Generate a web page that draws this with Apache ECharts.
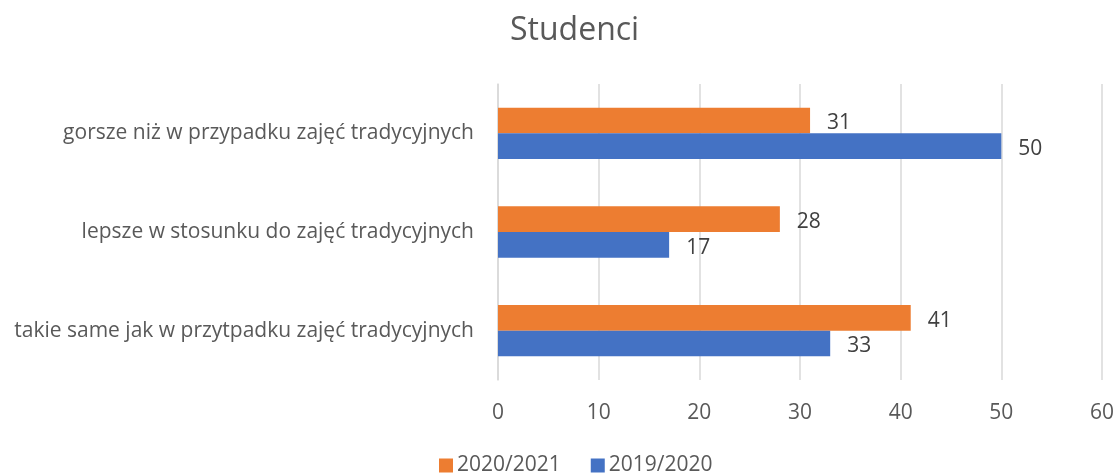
<!DOCTYPE html>
<html>
<head>
<meta charset="utf-8">
<script src="https://cdn.jsdelivr.net/npm/echarts@6/dist/echarts.min.js"></script>
<style>
  html, body { margin: 0; padding: 0; background: #fff; }
  #chart { width: 1117px; height: 475px; }
</style>
</head>
<body>
<div id="chart"></div>
<script>
  // kategorie od dołu do góry
  var categories = [
    'takie same jak w przytpadku zajęć tradycyjnych',
    'lepsze w stosunku do zajęć tradycyjnych',
    'gorsze niż w przypadku zajęć tradycyjnych'
  ];
  var seriesNames = ['2020/2021', '2019/2020'];
  var values2021 = [41, 28, 31];
  var values2020 = [33, 17, 50];

  var font = 'Open Sans, Noto Sans, sans-serif';
  var myChart = echarts.init(document.getElementById('chart'));
  var option = {
    animation: false,
    title: {
      text: 'Studenci',
      left: 505,
      top: 10,
      textStyle: { fontFamily: font, fontSize: 32, fontWeight: 'normal', color: '#595959' }
    },
    legend: {
      top: 450,
      left: 434,
      itemWidth: 14,
      itemHeight: 14,
      itemGap: 30,
      icon: 'rect',
      textStyle: { fontFamily: font, fontSize: 21, color: '#595959', padding: [0, 0, 0, -1] },
      data: seriesNames
    },
    grid: { left: 498, right: 13, top: 84, bottom: 95 },
    xAxis: {
      type: 'value',
      min: 0,
      max: 60,
      interval: 10,
      axisLine: { show: false },
      axisTick: { show: false },
      axisLabel: { fontFamily: font, fontSize: 21, color: '#595959', margin: 23 },
      splitLine: { lineStyle: { color: '#d9d9d9', width: 1.5 } }
    },
    yAxis: {
      type: 'category',
      data: categories,
      axisLine: { lineStyle: { color: '#d9d9d9', width: 1.5 } },
      axisTick: { show: false },
      axisLabel: { fontFamily: font, fontSize: 21, color: '#595959', margin: 24, lineHeight: 30, padding: [4, 0, 0, 0] }
    },
    series: [
      {
        name: seriesNames[0],
        type: 'bar',
        data: values2021,
        barGap: '0%',
        barCategoryGap: '48%',
        itemStyle: { color: '#ED7D31' },
        label: { show: true, position: 'right', distance: 17, offset: [0, 3], fontFamily: font, fontSize: 21, color: '#404040' }
      },
      {
        name: seriesNames[1],
        type: 'bar',
        data: values2020,
        barGap: '0%',
        barCategoryGap: '48%',
        itemStyle: { color: '#4472C4' },
        label: { show: true, position: 'right', distance: 17, offset: [0, 3], fontFamily: font, fontSize: 21, color: '#404040' }
      }
    ]
  };
  myChart.setOption(option);
  window.onresize = myChart.resize;
</script>
</body>
</html>
